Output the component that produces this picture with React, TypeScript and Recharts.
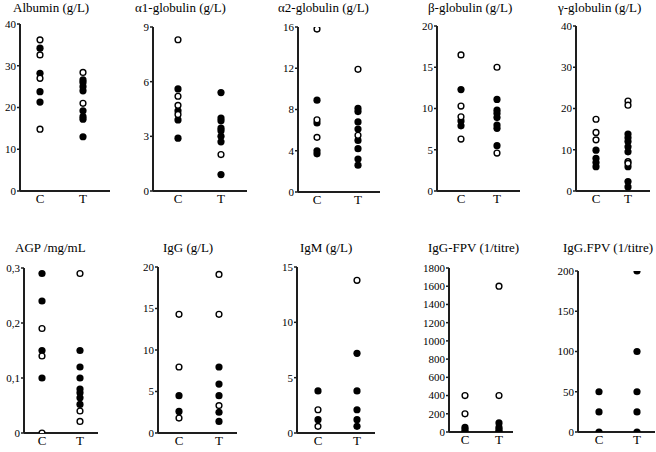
import React from 'react';
import { ScatterChart, Scatter, XAxis, YAxis } from 'recharts';

const FONT = '"Liberation Serif", "Times New Roman", serif';

const groups = ['C', 'T'];

const titles = [
  'Albumin (g/L)',
  'α1-globulin (g/L)',
  'α2-globulin (g/L)',
  'β-globulin (g/L)',
  'γ-globulin (g/L)',
  'AGP /mg/mL',
  'IgG (g/L)',
  'IgM (g/L)',
  'IgG-FPV (1/titre)',
  'IgG.FPV (1/titre)',
];

// Tick values per panel
const albuminTicks = [0, 10, 20, 30, 40];
const a1Ticks = [0, 3, 6, 9];
const a2Ticks = [0, 4, 8, 12, 16];
const betaTicks = [0, 5, 10, 15, 20];
const gammaTicks = [0, 10, 20, 30, 40];
const agpTicks = [0, 0.1, 0.2, 0.3];
const iggTicks = [0, 5, 10, 15, 20];
const igmTicks = [0, 5, 10, 15];
const fpvTicks = [0, 200, 400, 600, 800, 1000, 1200, 1400, 1600, 1800];
const fpv2Ticks = [0, 50, 100, 150, 200];

// Albumin
const albuminCFilled = [34.2, 28.2, 23.8, 21.3];
const albuminCOpen = [36.2, 32.6, 27.0, 14.8];
const albuminTFilled = [26.6, 26.0, 25.0, 24.0, 19.2, 17.8, 17.2, 13.0];
const albuminTOpen = [28.4, 21.0];

// alpha1-globulin
const a1CFilled = [5.6, 4.4, 3.9, 2.9];
const a1COpen = [8.3, 5.2, 4.7, 4.2];
const a1TFilled = [5.4, 4.0, 3.85, 3.45, 3.3, 3.0, 2.7, 0.9];
const a1TOpen = [2.0];

// alpha2-globulin
const a2CFilled = [8.9, 6.7, 4.0, 3.7];
const a2COpen = [15.8, 7.0, 5.3];
const a2TFilled = [8.1, 7.8, 6.8, 6.1, 5.0, 4.2, 3.2, 2.6];
const a2TOpen = [11.9, 5.5];

// beta-globulin
const betaCFilled = [12.3, 8.5, 7.9];
const betaCOpen = [16.5, 10.3, 9.0, 6.3];
const betaTFilled = [11.1, 9.8, 9.4, 8.9, 8.0, 7.6, 5.5];
const betaTOpen = [15.0, 4.6];

// gamma-globulin
const gammaCFilled = [9.9, 7.9, 6.9, 5.9];
const gammaCOpen = [17.4, 14.2, 12.4];
const gammaTFilled = [13.8, 12.9, 12.0, 10.7, 9.5, 5.9, 2.3, 1.0];
const gammaTOpen = [21.8, 20.8, 7.1, 6.7];

// AGP
const agpCFilled = [0.29, 0.24, 0.15, 0.1];
const agpCOpen = [0.19, 0.14, 0];
const agpTFilled = [0.15, 0.12, 0.1, 0.08, 0.073, 0.064, 0.052];
const agpTOpen = [0.29, 0.04, 0.021];

// IgG
const iggCFilled = [4.5, 2.6];
const iggCOpen = [14.3, 7.95, 1.8];
const iggTFilled = [7.95, 5.9, 4.5, 2.5, 1.4];
const iggTOpen = [19.1, 14.3, 3.3];

// IgM
const igmCFilled = [3.8, 1.2];
const igmCOpen = [2.1, 0.6];
const igmTFilled = [7.2, 3.8, 2.1, 1.2, 0.6];
const igmTOpen = [13.8];

// IgG-FPV
const fpvCFilled = [50, 25, 0];
const fpvCOpen = [400, 200];
const fpvTFilled = [100, 50, 25, 5];
const fpvTOpen = [1600, 400];

// IgG.FPV
const fpv2CFilled = [50, 25, 0];
const fpv2COpen: number[] = [];
const fpv2TFilled = [200, 100, 50, 25, 0];
const fpv2TOpen: number[] = [];

const panels = [
  { cF: albuminCFilled, cO: albuminCOpen, tF: albuminTFilled, tO: albuminTOpen, ticks: albuminTicks, comma: false },
  { cF: a1CFilled, cO: a1COpen, tF: a1TFilled, tO: a1TOpen, ticks: a1Ticks, comma: false },
  { cF: a2CFilled, cO: a2COpen, tF: a2TFilled, tO: a2TOpen, ticks: a2Ticks, comma: false },
  { cF: betaCFilled, cO: betaCOpen, tF: betaTFilled, tO: betaTOpen, ticks: betaTicks, comma: false },
  { cF: gammaCFilled, cO: gammaCOpen, tF: gammaTFilled, tO: gammaTOpen, ticks: gammaTicks, comma: false },
  { cF: agpCFilled, cO: agpCOpen, tF: agpTFilled, tO: agpTOpen, ticks: agpTicks, comma: true },
  { cF: iggCFilled, cO: iggCOpen, tF: iggTFilled, tO: iggTOpen, ticks: iggTicks, comma: false },
  { cF: igmCFilled, cO: igmCOpen, tF: igmTFilled, tO: igmTOpen, ticks: igmTicks, comma: false },
  { cF: fpvCFilled, cO: fpvCOpen, tF: fpvTFilled, tO: fpvTOpen, ticks: fpvTicks, comma: false },
  { cF: fpv2CFilled, cO: fpv2COpen, tF: fpv2TFilled, tO: fpv2TOpen, ticks: fpv2Ticks, comma: false },
];

// Layout (pixel geometry of each panel)
const layouts = [
  { axisX: 20, right: 110, top: 24, bottom: 191, cx: 40, tx: 83, titleX: 13, titleY: 1 },
  { axisX: 153, right: 247, top: 27, bottom: 191, cx: 178, tx: 221, titleX: 135, titleY: 1 },
  { axisX: 298, right: 380, top: 27, bottom: 192, cx: 317, tx: 358, titleX: 278, titleY: 1 },
  { axisX: 437, right: 520, top: 26, bottom: 191, cx: 461, tx: 497, titleX: 428, titleY: 1 },
  { axisX: 576, right: 650, top: 26, bottom: 191, cx: 596, tx: 628, titleX: 558, titleY: 1 },
  { axisX: 24, right: 98, top: 268, bottom: 433, cx: 42, tx: 80, titleX: 15, titleY: 241 },
  { axisX: 158, right: 237, top: 267, bottom: 433, cx: 179, tx: 219, titleX: 163, titleY: 241 },
  { axisX: 297, right: 375, top: 267, bottom: 433, cx: 318, tx: 357, titleX: 300, titleY: 241 },
  { axisX: 449, right: 513, top: 268, bottom: 432, cx: 465, tx: 499, titleX: 428, titleY: 241 },
  { axisX: 578, right: 655, top: 271, bottom: 432, cx: 599, tx: 637, titleX: 563, titleY: 241 },
];

const AXIS_COLOR = '#1e1e1e';

const FilledDot = (props: any) => {
  const { cx, cy } = props;
  if (cx == null || cy == null) return <g />;
  return <circle cx={cx} cy={cy} r={3.6} fill="#000" stroke="none" />;
};

const OpenDot = (props: any) => {
  const { cx, cy } = props;
  if (cx == null || cy == null) return <g />;
  return <circle cx={cx} cy={cy} r={2.9} fill="#fff" stroke="#000" strokeWidth={1.4} />;
};

function Panel({ idx }: { idx: number }) {
  const p = panels[idx];
  const L = layouts[idx];
  const yW = Math.min(34, L.axisX);
  const topM = 10;
  const xH = Math.min(22, 452 - L.bottom);
  const plotW = L.right - L.axisX;
  const plotH = L.bottom - L.top;
  const s = L.tx - L.cx;
  const lo = 1 - (L.cx - L.axisX) / s;
  const hi = 2 + (L.right - L.tx) / s;
  const yMax = p.ticks[p.ticks.length - 1];
  const filled = [
    ...p.cF.map((v) => ({ g: 1, v })),
    ...p.tF.map((v) => ({ g: 2, v })),
  ];
  const open = [
    ...p.cO.map((v) => ({ g: 1, v })),
    ...p.tO.map((v) => ({ g: 2, v })),
  ];
  const fmt = (v: number) =>
    p.comma ? (v === 0 ? '0' : v.toFixed(1).replace('.', ',')) : String(v);
  return (
    <div style={{ position: 'absolute', left: L.axisX - yW, top: L.top - topM }}>
      <ScatterChart
        width={yW + plotW}
        height={topM + plotH + xH}
        margin={{ top: topM, right: 0, bottom: 0, left: 0 }}
      >
        <XAxis
          type="number"
          dataKey="g"
          domain={[lo, hi]}
          allowDataOverflow
          ticks={[1, 2]}
          interval={0}
          tickFormatter={(v: number) => groups[Math.round(v) - 1]}
          height={xH}
          tickLine={false}
          tickSize={0}
          tickMargin={3}
          axisLine={{ stroke: AXIS_COLOR, strokeWidth: 2 }}
          tick={{ fontSize: 13, fill: '#000', fontFamily: FONT }}
        />
        <YAxis
          type="number"
          dataKey="v"
          domain={[0, yMax]}
          allowDataOverflow
          ticks={p.ticks}
          interval={0}
          width={yW}
          tickSize={3}
          tickMargin={1}
          tickFormatter={fmt}
          axisLine={{ stroke: AXIS_COLOR, strokeWidth: 2 }}
          tickLine={{ stroke: AXIS_COLOR, strokeWidth: 1.5 }}
          tick={{ fontSize: 11, fill: '#000', fontFamily: FONT }}
        />
        <Scatter data={filled} shape={FilledDot} isAnimationActive={false} />
        <Scatter data={open} shape={OpenDot} isAnimationActive={false} />
      </ScatterChart>
    </div>
  );
}

export default function App() {
  return (
    <div
      style={{
        position: 'absolute',
        left: 0,
        top: 0,
        width: 656,
        height: 452,
        background: '#fff',
        fontFamily: FONT,
        overflow: 'hidden',
      }}
    >
      {titles.map((t, i) => (
        <div
          key={'t' + i}
          style={{
            position: 'absolute',
            left: layouts[i].titleX,
            top: layouts[i].titleY,
            fontSize: 13,
            lineHeight: '14px',
            whiteSpace: 'nowrap',
            color: '#000',
            fontFamily: FONT,
          }}
        >
          {t}
        </div>
      ))}
      {panels.map((_, i) => (
        <Panel key={i} idx={i} />
      ))}
    </div>
  );
}
